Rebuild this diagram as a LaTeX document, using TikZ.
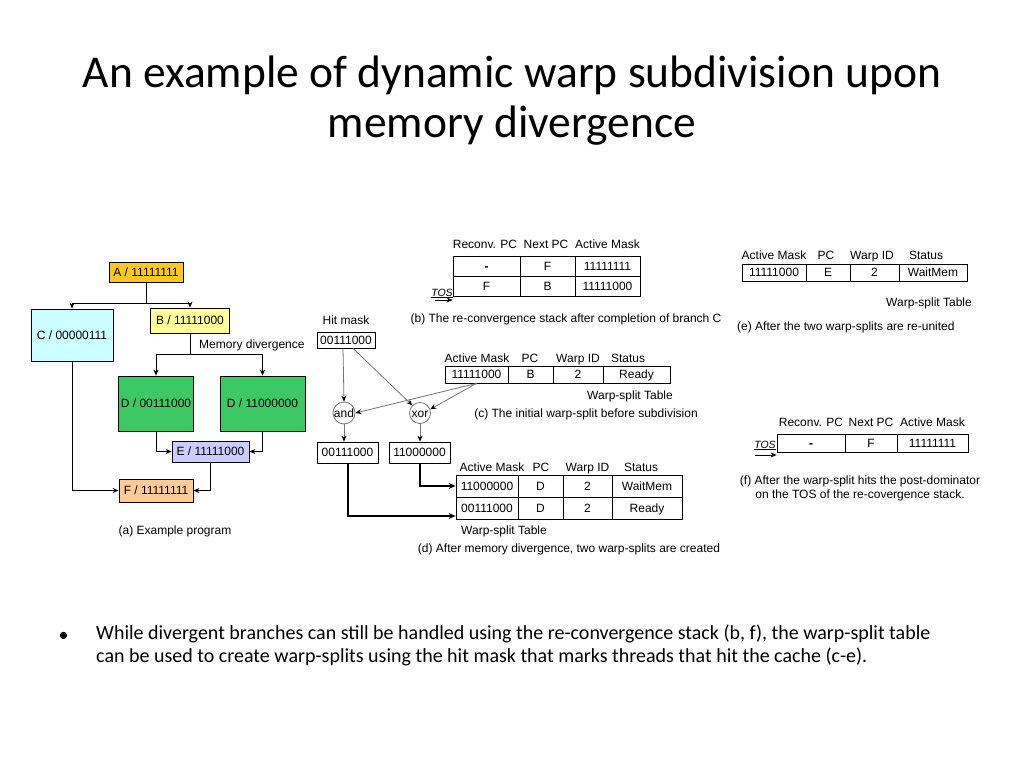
\documentclass[tikz,border=0pt]{standalone}
\usepackage{fontspec}
\setmainfont{Carlito}
\newfontfamily\arialfont{Liberation Sans}
\usetikzlibrary{arrows.meta, positioning}

\definecolor{boxA}{RGB}{250,200,30}
\definecolor{boxB}{RGB}{255,255,153}
\definecolor{boxC}{RGB}{204,255,255}
\definecolor{boxD}{RGB}{60,200,100}
\definecolor{boxE}{RGB}{204,204,255}
\definecolor{boxF}{RGB}{255,204,153}

\tikzset{
  diag/.style={font=\arialfont\fontsize{12}{14}\selectfont, text height=8.6pt, text depth=0.6pt},
  blk/.style={draw, line width=.8pt, inner sep=0pt, diag},
  cell/.style={draw, line width=.8pt, inner sep=0pt, diag},
  hdr/.style={inner sep=0pt, diag},
  arr/.style={line width=.8pt, -{Stealth[length=6pt,width=5pt]}},
  grayarr/.style={line width=.8pt, draw=black!55, -{Stealth[length=6pt,width=5pt,black]}},
  thickarr/.style={line width=2pt, -{Stealth[length=7pt,width=6pt]}},
  opnode/.style={circle, draw=black!55, line width=.8pt, minimum size=21pt, inner sep=0pt, diag},
  tos/.style={inner sep=0pt, diag, font=\arialfont\itshape\fontsize{10.5}{12}\selectfont}
}

\begin{document}
\begin{tikzpicture}[x=1pt, y=-1pt]
\useasboundingbox (0,0) rectangle (1024,768);

% title
\node[align=center, font=\fontsize{45.5}{50}\selectfont] (title) at (512,101)
  {An example of dynamic warp subdivision upon\\memory divergence};

% (a) example program
\node[blk, fill=boxA, minimum width=74pt, minimum height=20pt] (A) at (146,272) {A / 11111111};
\node[blk, fill=boxC, minimum width=82pt, minimum height=52pt] (C) at (72,335) {C / 00000111};
\node[blk, fill=boxB, minimum width=79pt, minimum height=25pt] (B) at (190,320.5) {B / 11111000};
\node[blk, fill=boxD, minimum width=75pt, minimum height=55pt] (D1) at (156,403.5) {D / 00111000};
\node[blk, fill=boxD, minimum width=85pt, minimum height=55pt] (D2) at (262.5,403.5) {D / 11000000};
\node[blk, fill=boxE, minimum width=77pt, minimum height=21pt] (E) at (210.5,451.5) {E / 11111000};
\node[blk, fill=boxF, minimum width=74pt, minimum height=23pt] (F) at (156,490.5) {F / 11111111};
\node[hdr, anchor=west] (memdiv) at (199,344) {Memory divergence};
\node[hdr] (capa) at (175,530) {(a) Example program};

\draw[arr] (A.south) -- ++(0,21) -| (C.north);
\draw[arr] (A.south) -- ++(0,21) -| (B.north);
\draw[arr] (B.south) -- ++(0,21) -| (D1.north);
\draw[arr] (B.south) -- ++(0,21) -| (D2.north);
\draw[arr] (D1.south) |- (E.west);
\draw[arr] (D2.south) |- (E.east);
\draw[arr] (C.south) |- (F.west);
\draw[arr] (E.south) |- (F.east);

% (b) re-convergence stack
\node[cell, minimum width=67pt, minimum height=20pt] (b11) at (486.5,266) {\textbf{-}};
\node[cell, minimum width=55pt, minimum height=20pt] (b12) at (547.5,266) {F};
\node[cell, minimum width=65pt, minimum height=20pt] (b13) at (607.5,266) {11111111};
\node[cell, minimum width=67pt, minimum height=20pt] (b21) at (486.5,286) {F};
\node[cell, minimum width=55pt, minimum height=20pt] (b22) at (547.5,286) {B};
\node[cell, minimum width=65pt, minimum height=20pt] (b23) at (607.5,286) {11111000};
\node[hdr] (bh1) at (485,244) {Reconv. PC};
\node[hdr] (bh2) at (546,244) {Next PC};
\node[hdr] (bh3) at (607.5,244) {Active Mask};
\node[tos] (tosb) at (442,292) {\underline{TOS}};
\coordinate (tosbtail) at (435,300);
\draw[arr] (tosbtail) -- (tosbtail -| b21.west);
\node[hdr] (capb) at (566,318) {(b) The re-convergence stack after completion of branch C};

% hit mask
\node[hdr] (hitlbl) at (346,320) {Hit mask};
\node[blk, minimum width=58pt, minimum height=16pt] (hit) at (346,340) {00111000};

% (c) initial warp-split
\node[cell, minimum width=63pt, minimum height=17pt] (c1) at (476.5,374.5) {11111000};
\node[cell, minimum width=45pt, minimum height=17pt] (c2) at (530.5,374.5) {B};
\node[cell, minimum width=50pt, minimum height=17pt] (c3) at (578,374.5) {2};
\node[cell, minimum width=67pt, minimum height=17pt] (c4) at (636.5,374.5) {Ready};
\node[hdr] (ch1) at (477,358) {Active Mask};
\node[hdr] (ch2) at (530,358) {PC};
\node[hdr] (ch3) at (578,358) {Warp ID};
\node[hdr] (ch4) at (628,358) {Status};
\node[hdr, anchor=east] (ctbl) at (673,395) {Warp-split Table};
\node[hdr] (capc) at (586,413) {(c) The initial warp-split before subdivision};

% and / xor
\node[opnode] (andop) at (344,413) {and};
\node[opnode] (xorop) at (420,413) {xor};
\draw[grayarr] ([xshift=-3pt]hit.south) -- (andop.north);
\draw[grayarr] ([xshift=7pt]hit.south) -- (xorop.north west);
\draw[grayarr] (c1.south) -- (andop.east);
\draw[grayarr] (c1.south) -- (xorop.20);

\node[blk, minimum width=61pt, minimum height=21pt] (dand) at (347.5,452.5) {00111000};
\node[blk, minimum width=61pt, minimum height=21pt] (dxor) at (419.5,452.5) {11000000};
\draw[grayarr] (andop.south) -- (dand.north -| andop);
\draw[grayarr] (xorop.south) -- (dxor.north -| xorop);

% (d) after memory divergence
\node[cell, minimum width=62pt, minimum height=22pt] (d11) at (487,486) {11000000};
\node[cell, minimum width=45pt, minimum height=22pt] (d12) at (540.5,486) {D};
\node[cell, minimum width=49pt, minimum height=22pt] (d13) at (587.5,486) {2};
\node[cell, minimum width=70pt, minimum height=22pt] (d14) at (647,486) {WaitMem};
\node[cell, minimum width=62pt, minimum height=22pt] (d21) at (487,508) {00111000};
\node[cell, minimum width=45pt, minimum height=22pt] (d22) at (540.5,508) {D};
\node[cell, minimum width=49pt, minimum height=22pt] (d23) at (587.5,508) {2};
\node[cell, minimum width=70pt, minimum height=22pt] (d24) at (647,508) {Ready};
\node[hdr] (dh1) at (492,467) {Active Mask};
\node[hdr] (dh2) at (541,467) {PC};
\node[hdr] (dh3) at (587.5,467) {Warp ID};
\node[hdr] (dh4) at (641,467) {Status};
\node[hdr, anchor=west] (dtbl) at (461,530) {Warp-split Table};
\node[hdr] (capd) at (569,548) {(d) After memory divergence, two warp-splits are created};
\draw[thickarr] (dxor.south) |- (d11.west);
\draw[thickarr] (dand.south) |- ([yshift=-8pt]d21.west);

% (e) after re-union
\node[cell, minimum width=64pt, minimum height=17pt] (e1) at (774,272.5) {11111000};
\node[cell, minimum width=44pt, minimum height=17pt] (e2) at (828,272.5) {E};
\node[cell, minimum width=49pt, minimum height=17pt] (e3) at (874.5,272.5) {2};
\node[cell, minimum width=68pt, minimum height=17pt] (e4) at (933,272.5) {WaitMem};
\node[hdr] (eh1) at (774,255) {Active Mask};
\node[hdr] (eh2) at (826,255) {PC};
\node[hdr] (eh3) at (872,255) {Warp ID};
\node[hdr] (eh4) at (926,255) {Status};
\node[hdr, anchor=east] (etbl) at (972,302) {Warp-split Table};
\node[hdr, anchor=west] (cape) at (737,326) {(e) After the two warp-splits are re-united};

% (f) post-dominator reached
\node[cell, minimum width=68pt, minimum height=18pt] (f1) at (811,443) {\textbf{-}};
\node[cell, minimum width=52pt, minimum height=18pt] (f2) at (871,443) {F};
\node[cell, minimum width=71pt, minimum height=18pt] (f3) at (932.5,443) {11111111};
\node[hdr] (fh1) at (811,422) {Reconv. PC};
\node[hdr] (fh2) at (871,422) {Next PC};
\node[hdr] (fh3) at (932.5,422) {Active Mask};
\node[tos] (tosf) at (765,444) {\underline{TOS}};
\coordinate (tosftail) at (755,455);
\draw[arr] (tosftail) -- (tosftail -| f1.west);
\node[hdr, align=center, text height=, text depth=] (capf) at (860,488)
  {(f) After the warp-split hits the post-dominator\\on the TOS of the re-covergence stack.};

% bullet text
\node[anchor=west, font=\fontsize{20}{23}\selectfont] (dot) at (55,637) {\textbullet};
\node[anchor=north west, align=left, inner sep=0pt, font=\fontsize{20}{23}\selectfont] (txt) at (96,625)
  {While divergent branches can still be handled using the re-convergence stack (b, f), the warp-split table\\
   can be used to create warp-splits using the hit mask that marks threads that hit the cache (c-e).};
\end{tikzpicture}
\end{document}
